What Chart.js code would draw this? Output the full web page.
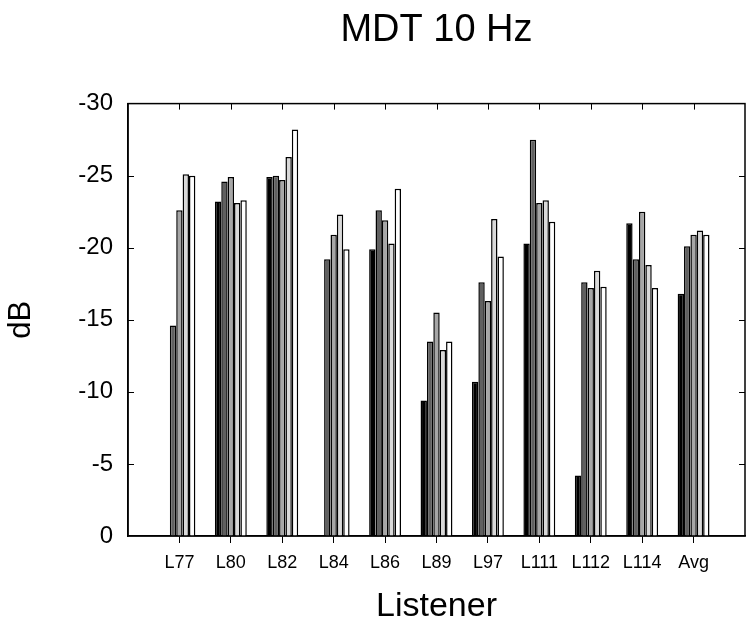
<!DOCTYPE html>
<html>
<head>
<meta charset="utf-8">
<script src="https://cdn.jsdelivr.net/npm/chart.js@4.4.1/dist/chart.umd.min.js"></script>
<style>
  body { margin: 0; background: #fff; }
</style>
</head>
<body>
<canvas id="myChart" width="754" height="628"></canvas>
<script>
// listeners on the x axis
let listeners = ['L77', 'L80', 'L82', 'L84', 'L86', 'L89', 'L97', 'L111', 'L112', 'L114', 'Avg'];

// thresholds (dB), one array per condition
let cond1 = [null, -23.2, -24.9, null, -19.9, -9.4, -10.7, -20.3, -4.2, -21.7, -16.8];
let cond2 = [-14.6, -24.6, -25.0, -19.2, -22.6, -13.5, -17.6, -27.5, -17.6, -19.2, -20.1];
let cond3 = [-22.6, -24.9, -24.7, -20.9, -21.9, -15.5, -16.3, -23.1, -17.2, -22.5, -20.9];
let cond4 = [-25.1, -23.1, -26.3, -22.3, -20.3, -12.9, -22.0, -23.3, -18.4, -18.8, -21.2];
let cond5 = [-25.0, -23.3, -28.2, -19.9, -24.1, -13.5, -19.4, -21.8, -17.3, -17.2, -20.9];

let yTicks = [-30, -25, -20, -15, -10, -5, 0];

// empty slot at each end so the first/last listener sit one step in from the frame
let labels = [''].concat(listeners, ['']);
let pad = (arr) => [null].concat(arr, [null]);

let fills = ['#000000', '#606060', '#a6a6a6', '#d9d9d9', '#ffffff'];
let series = [cond1, cond2, cond3, cond4, cond5];

// frame + inward tick marks (like the original plot)
let framePlugin = {
  id: 'frame',
  afterDraw: (chart) => {
    let ctx = chart.ctx;
    let a = chart.chartArea;
    let x = chart.scales.x;
    let y = chart.scales.y;
    ctx.save();
    ctx.strokeStyle = '#000';
    ctx.lineWidth = 1.5;
    ctx.strokeRect(a.left, a.top, a.right - a.left, a.bottom - a.top);
    ctx.lineWidth = 1;
    ctx.beginPath();
    listeners.forEach((l, i) => {
      let px = Math.round(x.getPixelForValue(i + 1)) + 0.5;
      ctx.moveTo(px, a.top);
      ctx.lineTo(px, a.top + 6);
    });
    yTicks.forEach((v) => {
      if (v === 0 || v === -30) return;
      let py = Math.round(y.getPixelForValue(v)) + 0.5;
      ctx.moveTo(a.left, py);
      ctx.lineTo(a.left + 6, py);
      ctx.moveTo(a.right, py);
      ctx.lineTo(a.right - 6, py);
    });
    ctx.stroke();
    ctx.restore();
  }
};

let ctx = document.getElementById('myChart').getContext('2d');
let myChart = new Chart(ctx, {
  type: 'bar',
  data: {
    labels: labels,
    datasets: series.map((s, i) => ({
      label: 'cond' + (i + 1),
      data: pad(s),
      backgroundColor: fills[i],
      borderColor: '#000',
      borderWidth: 1.5,
      categoryPercentage: 0.62,
      barPercentage: 1.0
    }))
  },
  options: {
    responsive: false,
    animation: false,
    layout: { padding: { left: 0, right: 9, top: 0, bottom: 0 } },
    plugins: {
      legend: { display: false },
      tooltip: { enabled: false },
      title: {
        display: true,
        text: 'MDT 10 Hz',
        color: '#000',
        fullSize: false,
        font: { family: 'Liberation Sans, Arial, sans-serif', size: 38, weight: 'normal' },
        padding: { top: 8, bottom: 50 }
      }
    },
    scales: {
      x: {
        offset: false,
        grid: {
          offset: false,
          drawOnChartArea: false,
          drawTicks: true,
          tickLength: 7,
          lineWidth: 1,
          color: (c) => (c.index === 0 || c.index === labels.length - 1) ? 'rgba(0,0,0,0)' : '#000'
        },
        border: { display: true, color: '#000', width: 1.5 },
        ticks: {
          color: '#000',
          padding: 9,
          maxRotation: 0,
          autoSkip: false,
          font: { family: 'Liberation Sans, Arial, sans-serif', size: 18 }
        },
        title: {
          display: true,
          text: 'Listener',
          color: '#000',
          font: { family: 'Liberation Sans, Arial, sans-serif', size: 34 },
          padding: { top: 0, bottom: 1 }
        },
        afterFit: (scale) => { scale.height = 92; }
      },
      y: {
        reverse: true,
        min: -30,
        max: 0,
        grid: { display: false, drawTicks: false },
        border: { display: true, color: '#000', width: 1.5 },
        ticks: {
          stepSize: 5,
          color: '#000',
          padding: 15,
          font: { family: 'Liberation Sans, Arial, sans-serif', size: 24 }
        },
        title: {
          display: true,
          text: 'dB',
          color: '#000',
          font: { family: 'Liberation Sans, Arial, sans-serif', size: 31 },
          padding: { top: 3, bottom: 0 }
        },
        afterFit: (scale) => { scale.width = 128; }
      }
    }
  },
  plugins: [framePlugin]
});
</script>
</body>
</html>
